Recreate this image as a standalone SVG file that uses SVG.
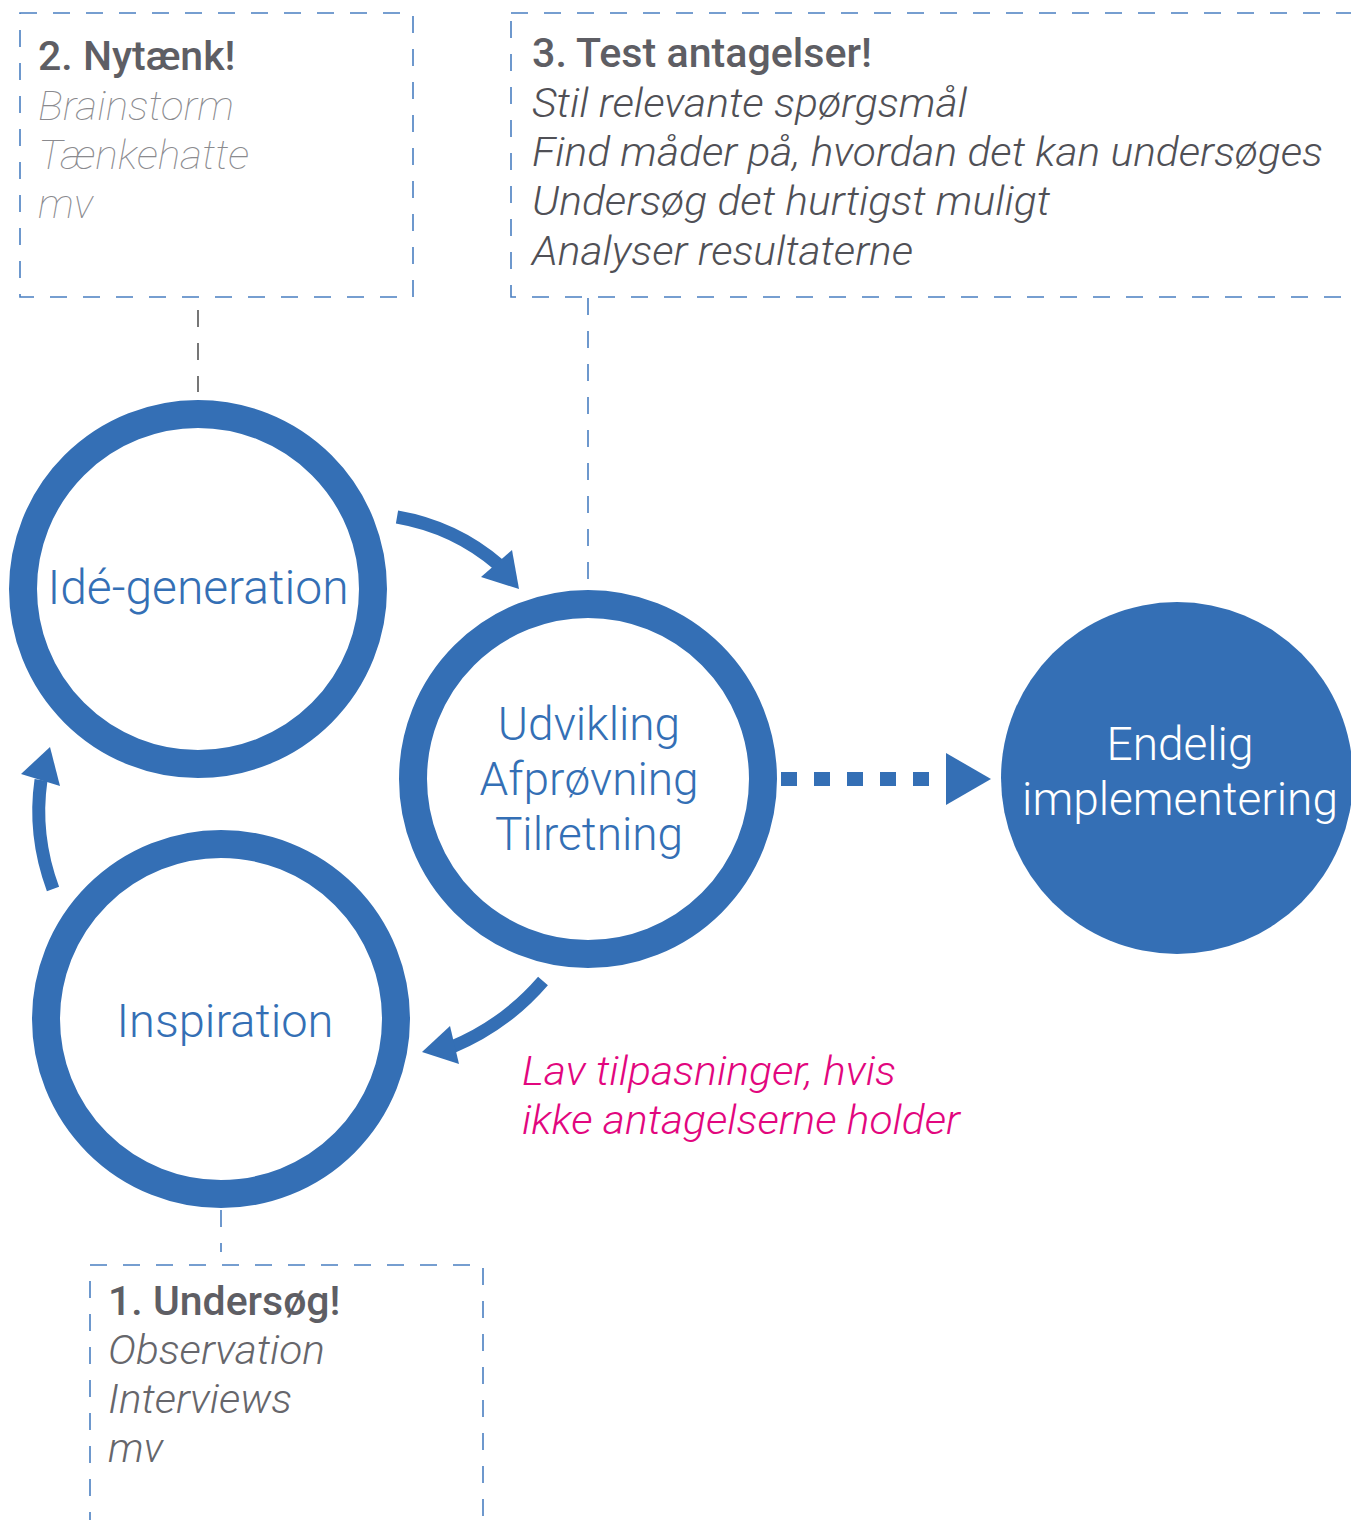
<svg xmlns="http://www.w3.org/2000/svg" width="1351" height="1520" viewBox="0 0 1351 1520">
<style>
.box{fill:none;stroke:#4a7fc1;stroke-width:1.6;stroke-dasharray:17 16}
.ring{fill:#fff;stroke:#346fb5;stroke-width:28}
.ctext{font-family:Roboto,"Liberation Sans",sans-serif;font-weight:300;font-size:46px;fill:#346fb5;text-anchor:middle}
.head{font-family:Roboto,"Liberation Sans",sans-serif;font-weight:500;font-size:41px;fill:#5e5e64}
.item{font-family:Roboto,"Liberation Sans",sans-serif;font-style:italic;font-size:41px}
.conn{fill:none;stroke:#346fb5;stroke-width:13}
.arrowhead{fill:#346fb5}
</style>
<rect width="1351" height="1520" fill="#fff"/>
<g id="box-nytaenk">
<rect class="box" x="20" y="13" width="393" height="284"/>
<text class="head" x="38" y="70">2. Nytænk!</text>
<text class="item" x="38" y="120" fill="#8a8a8e" font-weight="100" textLength="196" lengthAdjust="spacingAndGlyphs">Brainstorm</text>
<text class="item" x="38" y="169" fill="#8a8a8e" font-weight="100" textLength="211" lengthAdjust="spacingAndGlyphs">Tænkehatte</text>
<text class="item" x="38" y="218" fill="#8a8a8e" font-weight="100" textLength="55" lengthAdjust="spacingAndGlyphs">mv</text>
</g>
<g id="box-test">
<rect class="box" x="511" y="13" width="900" height="284"/>
<text class="head" x="532" y="67" fill="#505056" textLength="340" lengthAdjust="spacingAndGlyphs">3. Test antagelser!</text>
<text class="item" x="532" y="117" fill="#505056" font-weight="300" textLength="435" lengthAdjust="spacingAndGlyphs">Stil relevante spørgsmål</text>
<text class="item" x="532" y="166" fill="#505056" font-weight="300" textLength="791" lengthAdjust="spacingAndGlyphs">Find måder på, hvordan det kan undersøges</text>
<text class="item" x="532" y="215" fill="#505056" font-weight="300" textLength="518" lengthAdjust="spacingAndGlyphs">Undersøg det hurtigst muligt</text>
<text class="item" x="532" y="265" fill="#505056" font-weight="300" textLength="381" lengthAdjust="spacingAndGlyphs">Analyser resultaterne</text>
</g>
<g id="box-undersoeg">
<rect class="box" x="90" y="1265" width="393" height="300"/>
<text class="head" x="108" y="1315">1. Undersøg!</text>
<text class="item" x="108" y="1364" fill="#66666b" font-weight="300" textLength="217" lengthAdjust="spacingAndGlyphs">Observation</text>
<text class="item" x="108" y="1413" fill="#66666b" font-weight="300" textLength="184" lengthAdjust="spacingAndGlyphs">Interviews</text>
<text class="item" x="108" y="1462" fill="#66666b" font-weight="300" textLength="55" lengthAdjust="spacingAndGlyphs">mv</text>
</g>
<g id="connectors">
<line x1="198" y1="310" x2="198" y2="392" stroke="#555" stroke-width="1.6" stroke-dasharray="17 16"/>
<line x1="588" y1="298" x2="588" y2="580" stroke="#4a7fc1" stroke-width="1.6" stroke-dasharray="17 16"/>
<line x1="221" y1="1210" x2="221" y2="1252" stroke="#4a7fc1" stroke-width="1.6" stroke-dasharray="17 16"/>
<path class="conn" d="M397,517 Q455,527 499,565"/>
<polygon class="arrowhead" points="512,550 481,577 519,589"/>
<path class="conn" d="M53,889 Q33,835 41,780"/>
<polygon class="arrowhead" points="21,774 60,786 50,747"/>
<path class="conn" d="M543,981 Q505,1025 452,1047"/>
<polygon class="arrowhead" points="450,1026 459,1064 422,1052"/>
<line x1="781" y1="779" x2="930" y2="779" stroke="#346fb5" stroke-width="14" stroke-dasharray="16 17"/>
<polygon class="arrowhead" points="946,753 946,805 991,779"/>
</g>
<g id="node-ide">
<circle class="ring" cx="198" cy="589" r="175"/>
<text class="ctext" x="198" y="604" font-size="48" style="font-size:48px">Idé-generation</text>
</g>
<g id="node-udvikling">
<circle class="ring" cx="588" cy="779" r="175"/>
<text class="ctext" x="589" y="740">Udvikling</text>
<text class="ctext" x="589" y="795">Afprøvning</text>
<text class="ctext" x="589" y="850">Tilretning</text>
</g>
<g id="node-inspiration">
<circle class="ring" cx="221" cy="1019" r="175"/>
<text class="ctext" x="225" y="1037" style="font-size:47px">Inspiration</text>
</g>
<g id="node-endelig">
<circle cx="1177" cy="778" r="176" fill="#346fb5"/>
<text class="ctext" x="1180" y="760" style="fill:#fff">Endelig</text>
<text class="ctext" x="1180" y="815" style="fill:#fff">implementering</text>
</g>
<g id="note">
<text class="item" x="522" y="1085" fill="#e2067e" font-weight="300" textLength="374" lengthAdjust="spacingAndGlyphs">Lav tilpasninger, hvis</text>
<text class="item" x="522" y="1134" fill="#e2067e" font-weight="300" textLength="438" lengthAdjust="spacingAndGlyphs">ikke antagelserne holder</text>
</g>
</svg>
